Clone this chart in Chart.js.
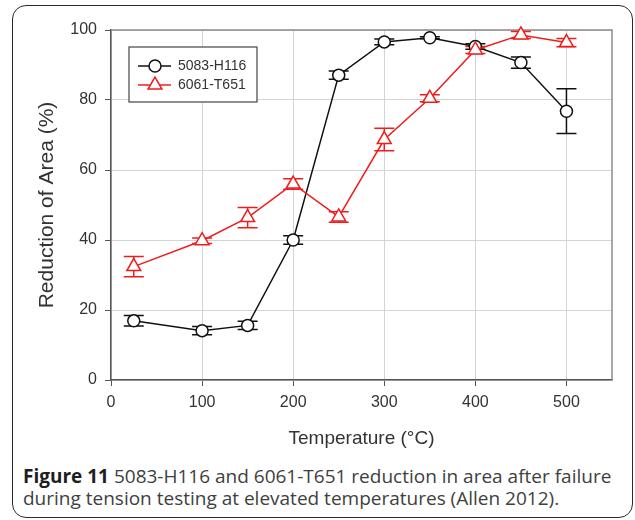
<!DOCTYPE html>
<html>
<head>
<meta charset="utf-8">
<title>Reduction of Area vs Temperature</title>
<script src="https://cdn.jsdelivr.net/npm/chart.js@4.4.1/dist/chart.umd.min.js"></script>
<style>
  html, body { margin: 0; padding: 0; background: #fff; }
  #figure { position: relative; width: 635px; height: 520px; overflow: hidden; }
  #frame {
    position: absolute; left: 12px; top: 5px; width: 621px; height: 513px;
    box-sizing: border-box; border: 1.5px solid #2a2a2a; border-radius: 14px;
  }
  #chart { position: absolute; left: 0; top: 0; }
  #caption {
    position: absolute; left: 23px; top: 465px;
    font-family: "Open Sans", sans-serif; font-size: 19px; line-height: 22px;
    color: #404040; white-space: nowrap;
  }
  #caption b { color: #1e1e1e; }
</style>
</head>
<body>
<div id="figure">
  <div id="frame"></div>
  <canvas id="chart" width="635" height="460"></canvas>
  <div id="caption"><b>Figure 11</b> 5083-H116 and 6061-T651 reduction in area after failure<br>during tension testing at elevated temperatures (Allen 2012).</div>
</div>

<script>
// test temperatures (°C)
const temperatures = [25, 100, 150, 200, 250, 300, 350, 400, 450, 500];

// reduction of area (%) and error bar half-widths
const raH116 = [16.9, 14.1, 15.6, 40.0, 87.1, 96.6, 97.8, 95.3, 90.7, 76.8];
const raH116Err = [1.5, 1.2, 1.2, 1.2, 1.2, 0.8, 0.3, 0.8, 1.6, 6.4];
const raT651 = [32.4, 39.8, 46.4, 56.0, 46.6, 68.7, 80.5, 94.3, 98.6, 96.4];
const raT651Err = [2.9, 0.8, 2.9, 1.5, 1.5, 3.2, 1.0, 1.0, 1.0, 1.2];

const seriesNames = ["5083-H116", "6061-T651"];
const xTicks = [0, 100, 200, 300, 400, 500];
const yTicks = [0, 20, 40, 60, 80, 100];

const FONT = "Liberation Sans, Arial, sans-serif";

function toPoints(values) {
  return temperatures.map((t, i) => ({ x: t, y: values[i] }));
}

// vertical error bars with caps, drawn under the markers
const errorBars = {
  id: "errorBars",
  beforeDatasetsDraw(chart) {
    const ctx = chart.ctx;
    chart.data.datasets.forEach((ds, i) => {
      const meta = chart.getDatasetMeta(i);
      ctx.save();
      ctx.strokeStyle = ds.borderColor;
      ctx.lineWidth = 1.5;
      ds.data.forEach((pt, j) => {
        const err = ds.errors[j];
        const x = meta.xScale.getPixelForValue(pt.x);
        const yTop = meta.yScale.getPixelForValue(pt.y + err);
        const yBot = meta.yScale.getPixelForValue(pt.y - err);
        ctx.beginPath();
        ctx.moveTo(x, yTop); ctx.lineTo(x, yBot);
        ctx.moveTo(x - 10, yTop); ctx.lineTo(x + 10, yTop);
        ctx.moveTo(x - 10, yBot); ctx.lineTo(x + 10, yBot);
        ctx.stroke();
      });
      ctx.restore();
    });
  }
};

// top and right edges of the plot box
const plotFrame = {
  id: "plotFrame",
  beforeDatasetsDraw(chart) {
    const { ctx, chartArea: a } = chart;
    ctx.save();
    ctx.strokeStyle = "#8c8c8c";
    ctx.lineWidth = 1.5;
    ctx.beginPath();
    ctx.moveTo(a.left, a.top);
    ctx.lineTo(a.right, a.top);
    ctx.lineTo(a.right, a.bottom);
    ctx.stroke();
    ctx.restore();
  }
};

// boxed legend in the upper left of the plot
const legendBox = {
  id: "legendBox",
  afterDatasetsDraw(chart) {
    const { ctx, chartArea: a } = chart;
    const bx = a.left + 18, by = a.top + 17;
    ctx.save();
    ctx.fillStyle = "#fff";
    ctx.fillRect(bx, by, 128, 55);
    ctx.strokeStyle = "#444";
    ctx.lineWidth = 1.2;
    ctx.strokeRect(bx, by, 128, 55);

    chart.data.datasets.forEach((ds, i) => {
      const y = by + 19 + i * 19;
      ctx.strokeStyle = ds.borderColor;
      ctx.lineWidth = 1.5;
      ctx.beginPath();
      ctx.moveTo(bx + 9, y);
      ctx.lineTo(bx + 42, y);
      ctx.stroke();
      ctx.fillStyle = "#fff";
      Chart.helpers.drawPoint(ctx, {
        pointStyle: ds.pointStyle, radius: ds.pointRadius,
        borderWidth: ds.pointBorderWidth, rotation: 0
      }, bx + 26, y);
      ctx.fillStyle = "#333";
      ctx.font = "14px " + FONT;
      ctx.textBaseline = "middle";
      ctx.fillText(ds.label, bx + 49, y + 0.5);
    });
    ctx.restore();
  }
};

const ctx = document.getElementById("chart").getContext("2d");
new Chart(ctx, {
  type: "scatter",
  data: {
    datasets: [
      {
        label: seriesNames[0],
        data: toPoints(raH116),
        errors: raH116Err,
        showLine: true,
        borderColor: "#111",
        borderWidth: 1.5,
        pointStyle: "circle",
        pointRadius: 6,
        pointBorderWidth: 1.5,
        pointBackgroundColor: "#fff",
        pointBorderColor: "#111",
        clip: false,
        order: 1
      },
      {
        label: seriesNames[1],
        data: toPoints(raT651),
        errors: raT651Err,
        showLine: true,
        borderColor: "#f01c1c",
        borderWidth: 1.5,
        pointStyle: "triangle",
        pointRadius: 8,
        pointBorderWidth: 1.5,
        pointBackgroundColor: "#fff",
        pointBorderColor: "#f01c1c",
        clip: false,
        order: 0
      }
    ]
  },
  options: {
    responsive: false,
    animation: false,
    layout: { padding: { left: 0, top: 30, right: 23, bottom: 0 } },
    plugins: {
      legend: { display: false },
      tooltip: { enabled: false }
    },
    scales: {
      x: {
        type: "linear",
        min: 0,
        max: 550,
        afterBuildTicks: s => { s.ticks = xTicks.map(v => ({ value: v })); },
        afterFit: s => { s.height = 80; },
        grid: { color: "#d4d4d4", lineWidth: 1, tickLength: 6, tickColor: "#555" },
        border: { color: "#555", width: 1.5 },
        ticks: { color: "#333", font: { family: FONT, size: 16 }, padding: 7, maxRotation: 0 },
        title: {
          display: true,
          text: "Temperature (°C)",
          color: "#333",
          font: { family: FONT, size: 19 },
          padding: { top: 0, bottom: 10 }
        }
      },
      y: {
        type: "linear",
        min: 0,
        max: 100,
        afterBuildTicks: s => { s.ticks = yTicks.map(v => ({ value: v })); },
        afterFit: s => { s.width = 111; },
        grid: { color: "#d4d4d4", lineWidth: 1, tickLength: 6, tickColor: "#555" },
        border: { color: "#555", width: 1.5 },
        ticks: { color: "#333", font: { family: FONT, size: 16 }, padding: 8 },
        title: {
          display: true,
          text: "Reduction of Area (%)",
          color: "#333",
          font: { family: FONT, size: 21 },
          padding: { top: 35, bottom: 0 }
        }
      }
    }
  },
  plugins: [plotFrame, errorBars, legendBox]
});
</script>
</body>
</html>
